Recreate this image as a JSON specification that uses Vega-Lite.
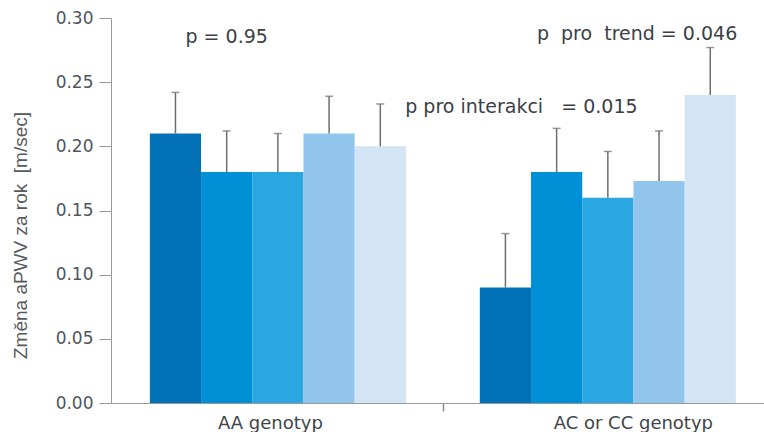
{
  "$schema": "https://vega.github.io/schema/vega-lite/v6.json",
  "width": 653,
  "height": 385,
  "autosize": {"type": "none"},
  "padding": {"left": 111, "top": 18, "right": 0, "bottom": 29},
  "background": "white",
  "config": {
    "view": {"stroke": null},
    "font": "DejaVu Sans"
  },
  "datasets": {
    "bars": [
      {"genotype": "AA genotyp", "group": "1", "mean": 0.21, "upper": 0.242},
      {"genotype": "AA genotyp", "group": "2", "mean": 0.18, "upper": 0.212},
      {"genotype": "AA genotyp", "group": "3", "mean": 0.18, "upper": 0.21},
      {"genotype": "AA genotyp", "group": "4", "mean": 0.21, "upper": 0.239},
      {"genotype": "AA genotyp", "group": "5", "mean": 0.20, "upper": 0.233},
      {"genotype": "AC or CC genotyp", "group": "1", "mean": 0.09, "upper": 0.132},
      {"genotype": "AC or CC genotyp", "group": "2", "mean": 0.18, "upper": 0.214},
      {"genotype": "AC or CC genotyp", "group": "3", "mean": 0.16, "upper": 0.196},
      {"genotype": "AC or CC genotyp", "group": "4", "mean": 0.173, "upper": 0.212},
      {"genotype": "AC or CC genotyp", "group": "5", "mean": 0.24, "upper": 0.277}
    ]
  },
  "encoding": {
    "x": {
      "field": "genotype",
      "type": "nominal",
      "sort": ["AA genotyp", "AC or CC genotyp"],
      "scale": {"paddingInner": 0.224, "paddingOuter": 0.1015, "align": 0.58},
      "axis": {
        "title": null,
        "labelAngle": 0,
        "labelFont": "DejaVu Sans",
        "labelFontSize": 18,
        "labelColor": "#40454a",
        "labelPadding": 3,
        "labelOffset": {"condition": {"test": "datum.value === 'AA genotyp'", "value": -173}, "value": -140},
        "tickOffset": 165,
        "tickSize": 8,
        "tickWidth": 1.5,
        "tickColor": "#8a8a8a",
        "domainColor": "#9a9a9a"
      }
    },
    "xOffset": {
      "field": "group",
      "type": "nominal",
      "scale": {"paddingInner": 0, "paddingOuter": 0}
    }
  },
  "layer": [
    {
      "data": {"name": "bars"},
      "mark": {"type": "bar"},
      "encoding": {
        "y": {
          "field": "mean",
          "type": "quantitative",
          "scale": {"domain": [0, 0.3], "nice": false},
          "axis": {
            "values": [0, 0.05, 0.1, 0.15, 0.2, 0.25, 0.3],
            "format": ".2f",
            "grid": false,
            "title": "Změna aPWV za rok\u00a0\u00a0[m/sec]",
            "titleFont": "Liberation Sans",
            "titleFontSize": 19,
            "titleFontWeight": "normal",
            "titleColor": "#555a60",
            "titlePadding": 25,
            "titleY": 217,
            "labelFont": "DejaVu Sans",
            "labelFontSize": 17,
            "labelColor": "#50555c",
            "labelPadding": 6,
            "tickSize": 12,
            "tickColor": "#9a9a9a",
            "domainColor": "#9a9a9a"
          }
        },
        "color": {
          "field": "group",
          "type": "nominal",
          "scale": {
            "domain": ["1", "2", "3", "4", "5"],
            "range": ["#0371b7", "#0190d6", "#2aa6e0", "#92c5eb", "#d3e5f5"]
          },
          "legend": null
        }
      }
    },
    {
      "data": {"name": "bars"},
      "mark": {"type": "rule", "color": "#6e6e6e", "strokeWidth": 1.5},
      "encoding": {
        "y": {"field": "mean", "type": "quantitative"},
        "y2": {"field": "upper"}
      }
    },
    {
      "data": {"name": "bars"},
      "mark": {"type": "tick", "orient": "horizontal", "size": 8, "thickness": 1.5, "color": "#6e6e6e"},
      "encoding": {
        "y": {"field": "upper", "type": "quantitative"}
      }
    },
    {
      "data": {"values": [{"genotype": "AA genotyp", "group": "2", "y": 0.285, "label": "p = 0.95"}]},
      "mark": {"type": "text", "fontSize": 19, "color": "#3c4046", "align": "center", "baseline": "middle"},
      "encoding": {
        "y": {"field": "y", "type": "quantitative"},
        "text": {"field": "label"}
      }
    },
    {
      "data": {"values": [{"genotype": "AC or CC genotyp", "group": "1", "y": 0.2307, "label": "p pro interakci\u00a0\u00a0\u00a0= 0.015"}]},
      "mark": {"type": "text", "fontSize": 19, "color": "#3c4046", "align": "center", "baseline": "middle", "dx": 16},
      "encoding": {
        "y": {"field": "y", "type": "quantitative"},
        "text": {"field": "label"}
      }
    },
    {
      "data": {"values": [{"genotype": "AC or CC genotyp", "group": "4", "y": 0.2876, "label": "p\u00a0\u00a0pro\u00a0\u00a0trend = 0.046"}]},
      "mark": {"type": "text", "fontSize": 19, "color": "#3c4046", "align": "center", "baseline": "middle", "dx": -22},
      "encoding": {
        "y": {"field": "y", "type": "quantitative"},
        "text": {"field": "label"}
      }
    }
  ]
}
